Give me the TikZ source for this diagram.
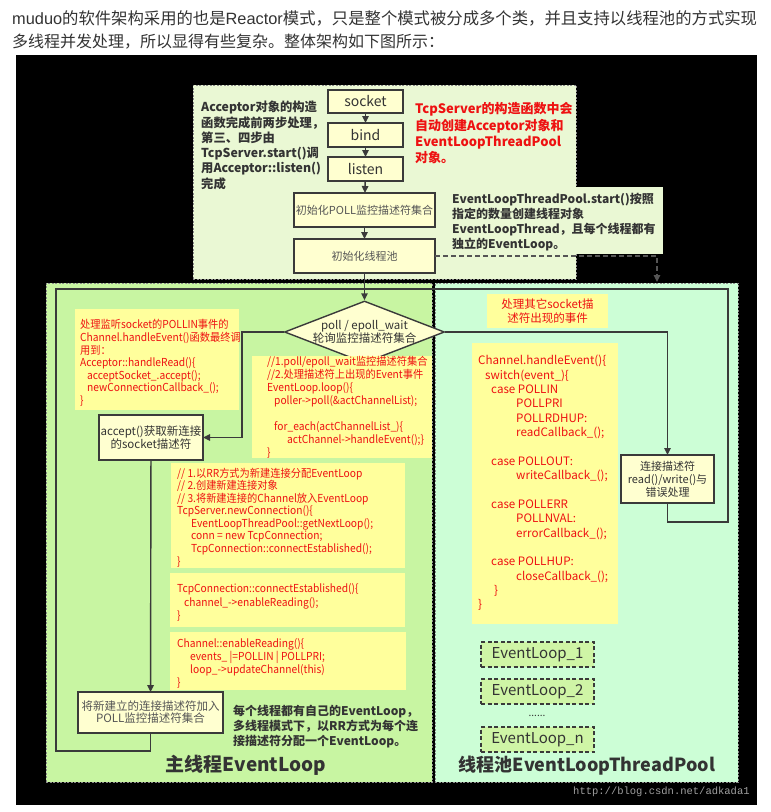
\documentclass[tikz,border=0pt]{standalone}
\usepackage{fontspec}
\setmainfont{Noto Sans CJK SC}
\newfontfamily\wmfont{Liberation Mono}
\newfontfamily\latfont{Liberation Sans}
\newfontfamily\codef{Noto Sans CJK SC}[FakeStretch=0.93]
\usetikzlibrary{arrows.meta,shapes.geometric}
\definecolor{headc}{HTML}{333333}
\definecolor{topfill}{HTML}{EAF8D4}
\definecolor{leftfill}{HTML}{C8F5A2}
\definecolor{rightfill}{HTML}{CCFED6}
\definecolor{codefill}{HTML}{FFFF9C}
\definecolor{boxfill}{HTML}{FFFFD0}
\definecolor{linec}{HTML}{3A3A3A}
\definecolor{redc}{HTML}{EE1111}
\definecolor{darkc}{HTML}{333333}
\definecolor{greyc}{HTML}{555555}
\definecolor{elfill}{HTML}{CFF5A6}
\definecolor{wmc}{HTML}{A0A0A0}
\definecolor{regc}{HTML}{8A8A8A}
\definecolor{dashc}{HTML}{555555}
\newcommand\myind[1]{\hspace*{#1pt}}
\newcommand\fs[2]{\fontsize{#1}{#2}\selectfont}
\newcommand\lt[1]{{\latfont #1}}
\begin{document}
\begin{tikzpicture}[x=1pt,y=-1pt,
  lin/.style={draw=linec,line width=1.4pt},
  arr/.style={lin,-{Triangle[length=7pt,width=6.5pt]}},
  dasharr/.style={draw=dashc,line width=1.3pt,dash pattern=on 5pt off 3pt,-{Triangle[length=7pt,width=6.5pt]}},
  region/.style={draw=regc,line width=0.8pt,dash pattern=on 2pt off 1.5pt,anchor=north west,inner sep=0,outer sep=0},
  flowbox/.style={draw=linec,line width=1.4pt,fill=boxfill,anchor=north west,inner sep=0,outer sep=0,align=center,text=darkc},
  codebg/.style={fill=codefill,anchor=north west,inner sep=0,outer sep=0},
  codetxt/.style={text=redc,align=left,anchor=north west,inner sep=0},
  note/.style={text=darkc,align=left,anchor=north west,inner sep=0},
  elbox/.style={draw=linec,line width=1.2pt,dash pattern=on 4pt off 2.5pt,fill=elfill,anchor=north west,inner sep=0,outer sep=0,font=\fs{15}{15},text=darkc}
]
\useasboundingbox (0,0) rectangle (771,812);
\fill[white] (0,0) rectangle (771,812);
% header
\node[anchor=west,inner sep=0,text=headc,font=\fs{16.35}{16.35}] (hd1) at (12,18) {\lt{muduo}的软件架构采用的也是\lt{Reactor}模式，只是整个模式被分成多个类，并且支持以线程池的方式实现};
\node[anchor=west,inner sep=0,text=headc,font=\fs{16}{16}] (hd2) at (12,42) {多线程并发处理，所以显得有些复杂。整体架构如下图所示：};
\fill[black] (16,55) rectangle (757,805);
% regions
\node[region,fill=topfill,minimum width=383,minimum height=194] (topreg) at (193,85) {};
\node[anchor=north west,fill=topfill,inner sep=0,outer sep=0,minimum width=218,minimum height=67] (poolbg) at (445,187) {};
\node[region,fill=leftfill,minimum width=386,minimum height=499] (mainreg) at (46,283) {};
\node[region,fill=rightfill,minimum width=303,minimum height=499] (poolreg) at (435,283) {};
% top notes
\node[note,font=\bfseries\fs{12.3}{15.3}] (accnote) at (201,101) {Acceptor对象的构造\\函数完成前两步处理，\\第三、四步由\\TcpServer.start()调\\用Acceptor::listen()\\完成};
\node[note,text=redc,font=\bfseries\fs{13}{16.3}] (srvnote) at (415,102.5) {TcpServer的构造函数中会\\自动创建Acceptor对象和\\EventLoopThreadPool\\对象。};
\node[note,font=\bfseries\fs{12}{15}] (poolnote) at (452,192.5) {EventLoopThreadPool.start()按照\\指定的数量创建线程对象\\EventLoopThread，且每个线程都有\\独立的EventLoop。};
% flow boxes
\node[flowbox,minimum width=75,minimum height=23,font=\fs{14}{14}] (sock) at (328,90) {socket};
\node[flowbox,minimum width=75,minimum height=24,font=\fs{14}{14}] (bind) at (328,123) {bind};
\node[flowbox,minimum width=75,minimum height=24,font=\fs{14}{14}] (listen) at (328,157) {listen};
\node[flowbox,minimum width=141,minimum height=34,font=\fs{11}{11},text=greyc] (pollinit) at (294,193) {初始化POLL监控描述符集合};
\node[flowbox,minimum width=141,minimum height=34,font=\fs{11}{11},text=greyc] (poolinit) at (294,239) {初始化线程池};
\draw[arr] (sock) -- (bind);
\draw[arr] (bind) -- (listen);
\draw[arr] (listen) -- (pollinit);
\draw[arr] (pollinit) -- (poolinit);
\coordinate (dend) at (657,282);
\draw[dasharr] (poolinit.east) -| (dend);
% diamond
\node[draw=linec,line width=1.4pt,fill=boxfill,shape=diamond,minimum width=160,minimum height=62,inner sep=0,
  label={[align=center,font=\fs{11.5}{13},text=darkc]center:{poll / epoll\_wait\\轮询监控描述符集合}}] (dia) at (364.5,332) {};
\draw[arr] (poolinit) -- (dia);
% code boxes
\node[codebg,minimum width=164,minimum height=101] (cb1) at (75,309) {};
\node[codetxt,font=\codef\fs{11}{12.6}] (cb1t) at (80,319.5) {处理监听socket的POLLIN事件的\\Channel.handleEvent()函数最终调\\用到：\\Acceptor::handleRead()\{\\\myind{7}acceptSocket\_.accept();\\\myind{7}newConnectionCallback\_();\\\}};
\node[codebg,minimum width=180,minimum height=102] (cb2) at (252,356) {};
\node[codetxt,font=\codef\fs{11}{12.86}] (cb2t) at (267,356.5) {//1.poll/epoll\_wait监控描述符集合\\//2.处理描述符上出现的Event事件\\EventLoop.loop()\{\\\myind{7}poller->poll(\&actChannelList);\\\mbox{}\\\myind{7}for\_each(actChannelList\_)\{\\\myind{20}actChannel->handleEvent();\}\\\}};
\node[codebg,minimum width=234,minimum height=105] (cb3) at (171,463) {};
\node[codetxt,font=\codef\fs{11}{12.57}] (cb3t) at (177,467.5) {// 1.以RR方式为新建连接分配EventLoop\\// 2.创建新建连接对象\\// 3.将新建连接的Channel放入EventLoop\\TcpServer.newConnection()\{\\\myind{14}EventLoopThreadPool::getNextLoop();\\\myind{14}conn = new TcpConnection;\\\myind{14}TcpConnection::connectEstablished();\\\}};
\node[codebg,minimum width=235,minimum height=54] (cb4) at (170,573) {};
\node[codetxt,font=\codef\fs{11}{13.5}] (cb4t) at (177,583.5) {TcpConnection::connectEstablished()\{\\\myind{7}channel\_->enableReading();\\\}};
\node[codebg,minimum width=236,minimum height=58] (cb5) at (170,632) {};
\node[codetxt,font=\codef\fs{11}{13}] (cb5t) at (177,638.5) {Channel::enableReading()\{\\\myind{13}events\_ |=POLLIN | POLLPRI;\\\myind{13}loop\_->updateChannel(this)\\\}};
\node[codebg,minimum width=121,minimum height=34,align=center,text=redc,font=\fs{11.5}{14}] (cb6) at (487,294) {处理其它socket描\\述符出现的事件};
\node[codebg,minimum width=146,minimum height=281] (cb7) at (472,343) {};
\node[codetxt,font=\fs{11.6}{14.35}] (cb7t) at (478,355.2) {Channel.handleEvent()\{\\\myind{7}switch(event\_)\{\\\myind{13}case POLLIN\\\myind{38}POLLPRI\\\myind{38}POLLRDHUP:\\\myind{38}readCallback\_();\\\mbox{}\\\myind{13}case POLLOUT:\\\myind{38}writeCallback\_();\\\mbox{}\\\myind{13}case POLLERR\\\myind{38}POLLNVAL:\\\myind{38}errorCallback\_();\\\mbox{}\\\myind{13}case POLLHUP:\\\myind{38}closeCallback\_();\\\myind{16}\}\\\}};
% flow boxes in panels
\node[flowbox,minimum width=104,minimum height=45,font=\fs{11.5}{12.5}] (acc) at (99,415) {accept()获取新连接\\的socket描述符};
\node[flowbox,minimum width=93,minimum height=48,font=\fs{11}{13}] (rw) at (621,455) {连接描述符\\read()/write()与\\错误处理};
\node[flowbox,minimum width=145,minimum height=41,font=\fs{11.5}{12},text=greyc] (add) at (78,692) {将新建立的连接描述符加入\\POLL监控描述符集合};
% connectors
\coordinate (jn) at (364.5,289);
\coordinate (lb) at (56,751);
\coordinate (rb) at (728,522);
\coordinate (dl) at (242,332);
\draw[lin] (add.south) |- (lb) |- (jn);
\draw[lin] (rw.south) |- (rb) |- (jn);
\draw[arr] (dia.west) -- (dl) |- (acc.east);
\draw[arr] (dia.east) -| (rw.north);
\draw[arr] (acc) -- (add);
% event loops
\node[elbox,minimum width=113,minimum height=25] (el1) at (481,642) {EventLoop\_1};
\node[elbox,minimum width=113,minimum height=25] (el2) at (481,679) {EventLoop\_2};
\node[inner sep=0,text=darkc,font=\fs{10}{10}] (eldots) at (537,716) {......};
\node[elbox,minimum width=113,minimum height=25] (eln) at (481,727) {EventLoop\_n};
% bottom notes
\node[note,font=\bfseries\fs{12}{15}] (rrnote) at (233,705) {每个线程都有自己的EventLoop，\\多线程模式下，以RR方式为每个连\\接描述符分配一个EventLoop。};
\node[inner sep=0,text=darkc,font=\bfseries\fs{19}{19}] (maintitle) at (246,765) {主线程EventLoop};
\node[inner sep=0,text=darkc,font=\bfseries\fs{18}{18}] (pooltitle) at (587,766) {线程池EventLoopThreadPool};
\node[anchor=west,inner sep=0,font=\wmfont\fs{10.5}{10.5},text=wmc] (wm) at (573,792) {http://blog.csdn.net/adkada1};
\end{tikzpicture}
\end{document}
